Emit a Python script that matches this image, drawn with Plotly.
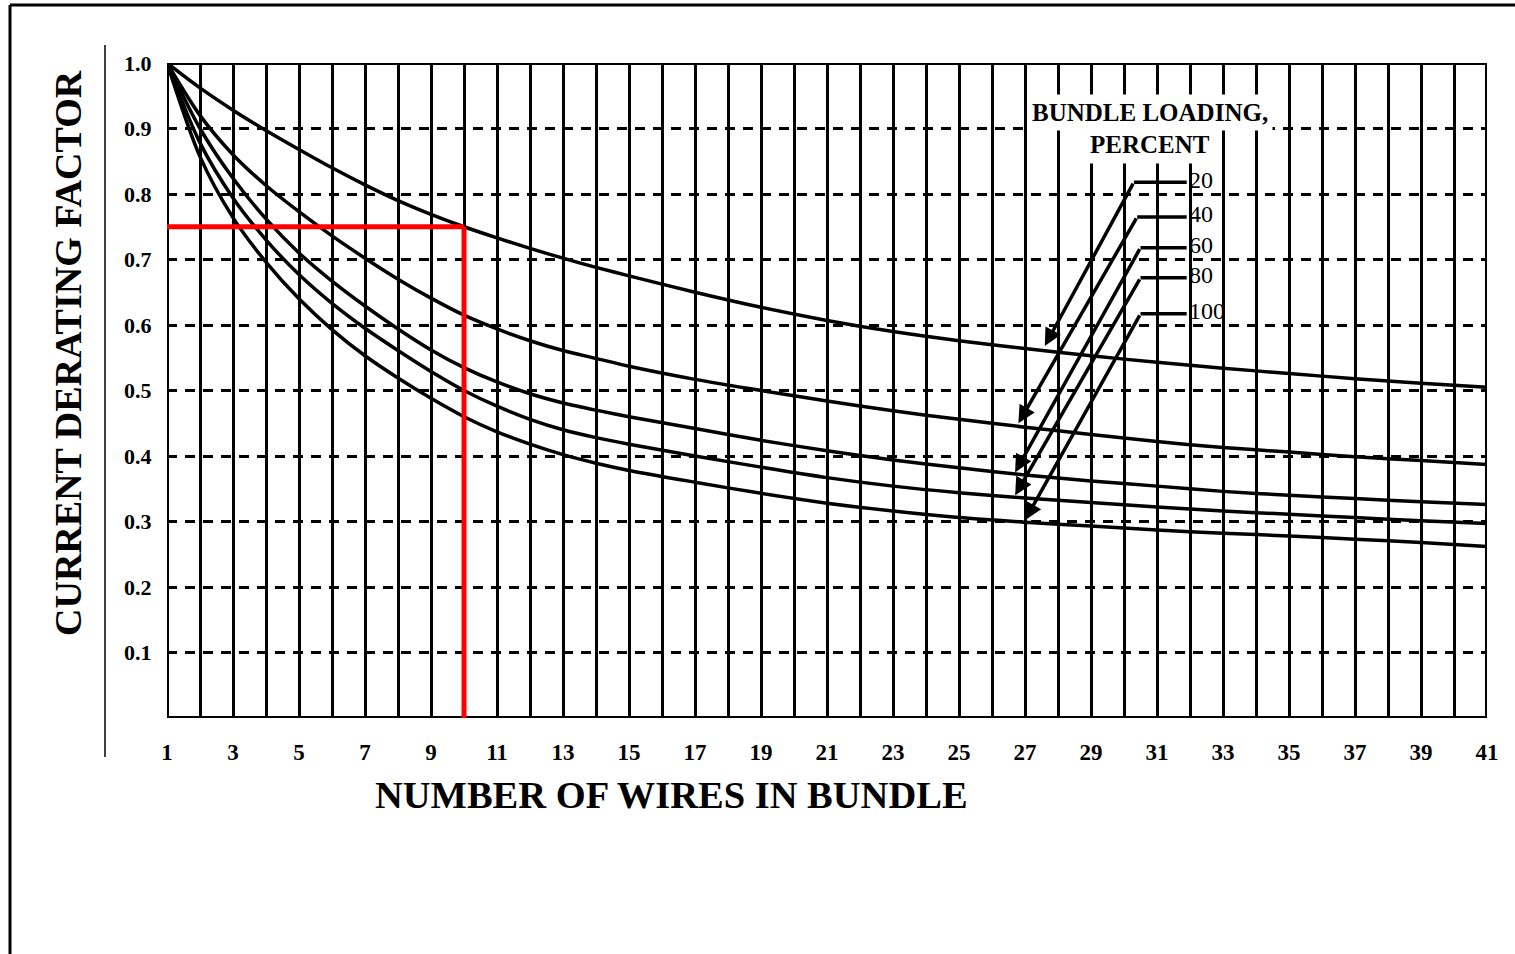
import plotly.graph_objects as go

# ---- data ----
wires = [1, 2, 3, 4, 5, 6, 7, 8, 9, 10, 11, 12, 13, 14, 15, 17, 19, 21, 23, 25, 27, 29, 31, 33, 35, 37, 39, 41]
load_20 = [1.0, 0.962, 0.928, 0.897, 0.868, 0.840, 0.814, 0.790, 0.769, 0.750, 0.733, 0.717, 0.702, 0.688, 0.675,
           0.650, 0.627, 0.607, 0.590, 0.576, 0.564, 0.553, 0.543, 0.534, 0.526, 0.518, 0.511, 0.505]
load_40 = [1.0, 0.920, 0.860, 0.813, 0.773, 0.736, 0.702, 0.670, 0.641, 0.615, 0.594, 0.576, 0.561, 0.549, 0.537,
           0.517, 0.500, 0.484, 0.469, 0.456, 0.444, 0.433, 0.422, 0.413, 0.406, 0.399, 0.393, 0.387]
load_60 = [1.0, 0.900, 0.824, 0.762, 0.710, 0.667, 0.629, 0.594, 0.562, 0.535, 0.513, 0.495, 0.481, 0.470, 0.460,
           0.442, 0.424, 0.408, 0.394, 0.382, 0.371, 0.362, 0.354, 0.346, 0.340, 0.335, 0.330, 0.326]
load_80 = [1.0, 0.878, 0.794, 0.730, 0.677, 0.633, 0.595, 0.561, 0.529, 0.500, 0.476, 0.456, 0.440, 0.428, 0.418,
           0.400, 0.383, 0.367, 0.354, 0.344, 0.336, 0.329, 0.322, 0.316, 0.311, 0.306, 0.301, 0.297]
load_100 = [1.0, 0.857, 0.764, 0.696, 0.640, 0.593, 0.553, 0.519, 0.488, 0.460, 0.437, 0.418, 0.402, 0.389, 0.378,
            0.360, 0.343, 0.328, 0.316, 0.306, 0.299, 0.293, 0.287, 0.282, 0.278, 0.273, 0.268, 0.262]

series_names = ["20", "40", "60", "80", "100"]
series_values = [load_20, load_40, load_60, load_80, load_100]

# legend leader lines: tip (on curve) and corner (bend) in data units
arrow_tip_x = [27.6, 26.8, 26.7, 26.7, 27.0]
arrow_tip_y = [0.568, 0.450, 0.375, 0.340, 0.302]
corner_x = [30.3, 30.4, 30.5, 30.5, 30.5]
corner_y = [0.818, 0.765, 0.718, 0.672, 0.617]
leader_end_x = 31.9

x_tick_vals = list(range(1, 42))
x_tick_text = [f"<b>{v}</b>" if v % 2 == 1 else "" for v in x_tick_vals]
y_tick_vals = [0.1, 0.2, 0.3, 0.4, 0.5, 0.6, 0.7, 0.8, 0.9, 1.0]
y_tick_text = ["<b>0.1</b>", "<b>0.2</b>", "<b>0.3</b>", "<b>0.4</b>", "<b>0.5</b>",
               "<b>0.6</b>", "<b>0.7</b>", "<b>0.8</b>", "<b>0.9</b>", "<b>1.0</b>"]

example_wires = 10
example_factor = 0.75

SERIF = "Liberation Serif, Times New Roman, serif"

# ---- figure ----
W, H = 1515, 954
L, R, T, B = 167, 28, 63, 236
PW, PH = W - L - R, H - T - B


def px_x(p):
    return (p - L) / PW


def px_y(p):
    return (H - B - p) / PH


fig = go.Figure()
for name, vals in zip(series_names, series_values):
    fig.add_trace(go.Scatter(
        x=wires, y=vals, mode="lines", name=name + "%",
        line=dict(color="black", width=3.5, shape="spline", smoothing=0.8),
        hoverinfo="x+y+name",
    ))

shapes = []
# plot frame
shapes.append(dict(type="rect", xref="x", yref="y", x0=1, x1=41, y0=0, y1=1.0,
                   line=dict(color="black", width=4), layer="above"))
# legend horizontal leaders
for cx, cy in zip(corner_x, corner_y):
    shapes.append(dict(type="line", xref="x", yref="y", x0=cx, x1=leader_end_x, y0=cy, y1=cy,
                       line=dict(color="black", width=3.5), layer="above"))
# example red lines
shapes.append(dict(type="line", xref="x", yref="y", x0=0.88, x1=example_wires, y0=example_factor, y1=example_factor,
                   line=dict(color="#ff0000", width=5), layer="above"))
shapes.append(dict(type="line", xref="x", yref="y", x0=example_wires, x1=example_wires, y0=example_factor, y1=-0.012,
                   line=dict(color="#ff0000", width=5), layer="above"))
# thin vertical rule left of the y labels
shapes.append(dict(type="line", xref="paper", yref="paper", x0=px_x(105), x1=px_x(105), y0=px_y(45), y1=px_y(757),
                   line=dict(color="black", width=1.5)))
# page border (top and left)
shapes.append(dict(type="line", xref="paper", yref="paper", x0=px_x(10), x1=px_x(1520), y0=px_y(5), y1=px_y(5),
                   line=dict(color="black", width=3)))
shapes.append(dict(type="line", xref="paper", yref="paper", x0=px_x(10), x1=px_x(10), y0=px_y(5), y1=px_y(960),
                   line=dict(color="black", width=3)))

annotations = []
for name, tx, ty, cx, cy in zip(series_names, arrow_tip_x, arrow_tip_y, corner_x, corner_y):
    annotations.append(dict(x=tx, y=ty, ax=cx, ay=cy, xref="x", yref="y", axref="x", ayref="y",
                            text="", showarrow=True, arrowhead=2, arrowsize=1.0, arrowwidth=3.5,
                            arrowcolor="black", standoff=0, startstandoff=0))
    annotations.append(dict(x=leader_end_x + 0.02, y=cy + 0.004, xref="x", yref="y", text=name,
                            showarrow=False, xanchor="left", yanchor="middle",
                            font=dict(family=SERIF, size=24, color="black")))

annotations.append(dict(x=30.8, y=0.925, xref="x", yref="y", text="<b>BUNDLE LOADING,</b>",
                        showarrow=False, xanchor="center", yanchor="middle", bgcolor="white",
                        borderpad=4, font=dict(family=SERIF, size=25, color="black")))
annotations.append(dict(x=30.8, y=0.876, xref="x", yref="y", text="<b>PERCENT</b>",
                        showarrow=False, xanchor="center", yanchor="middle", bgcolor="white",
                        borderpad=5, font=dict(family=SERIF, size=25, color="black")))

annotations.append(dict(x=px_x(671), y=px_y(795), xref="paper", yref="paper",
                        text="<b>NUMBER OF WIRES IN BUNDLE</b>", showarrow=False,
                        xanchor="center", yanchor="middle",
                        font=dict(family=SERIF, size=38.5, color="black")))
annotations.append(dict(x=px_x(68), y=px_y(353), xref="paper", yref="paper",
                        text="<b>CURRENT DERATING FACTOR</b>", showarrow=False, textangle=-90,
                        xanchor="center", yanchor="middle",
                        font=dict(family=SERIF, size=38, color="black")))

fig.update_layout(
    width=W, height=H,
    margin=dict(l=L, r=R, t=T, b=B),
    paper_bgcolor="white", plot_bgcolor="white",
    showlegend=False,
    shapes=shapes, annotations=annotations,
)
fig.update_xaxes(
    range=[1, 41], tickmode="array", tickvals=x_tick_vals, ticktext=x_tick_text,
    showgrid=True, gridcolor="black", gridwidth=3, zeroline=False, showline=False,
    ticks="outside", ticklen=13, tickcolor="rgba(0,0,0,0)",
    tickfont=dict(family=SERIF, size=23, color="black"), tickangle=0,
)
fig.update_yaxes(
    range=[0, 1.0], tickmode="array", tickvals=y_tick_vals, ticktext=y_tick_text,
    showgrid=True, gridcolor="black", gridwidth=3, griddash="10px,8px",
    zeroline=False, showline=False,
    ticks="outside", ticklen=10, tickcolor="rgba(0,0,0,0)",
    tickfont=dict(family=SERIF, size=22, color="black"),
)

fig.write_html("out.html", config={"displayModeBar": False},
               post_script="document.body.style.margin='0px';document.body.style.overflow='hidden';")
